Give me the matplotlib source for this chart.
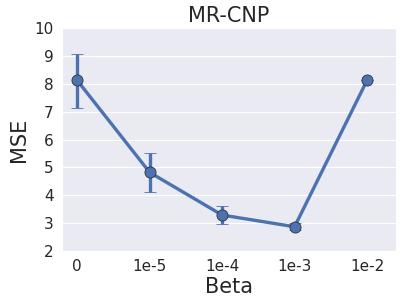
import matplotlib
matplotlib.use("Agg")
import matplotlib.pyplot as plt
import seaborn as sns
import numpy as np

betas = ["0", "1e-5", "1e-4", "1e-3", "1e-2"]
mse = [8.12, 4.82, 3.29, 2.87, 8.12]
err_low = [7.12, 4.11, 2.96, 2.74, 8.12]
err_high = [9.08, 5.52, 3.62, 3.02, 8.12]

sns.set_style("darkgrid")
plt.rcParams['font.family'] = ['DejaVu Sans']

fig = plt.figure(figsize=(4.03, 3.08), dpi=100)
ax = fig.add_axes([62 / 403, 1 - 251 / 308, 334 / 403, 223 / 308])

x = np.arange(len(betas))
mse = np.array(mse)
yerr = [mse - np.array(err_low), np.array(err_high) - mse]
color = "#4C72B0"
ax.errorbar(x, mse, yerr=yerr, color=color, lw=2.4, capsize=4, elinewidth=2.4,
            capthick=1.2, marker="o", markersize=8, markeredgecolor="#333333",
            markeredgewidth=0.6, zorder=3)

ax.set_xticks(x)
ax.set_xticklabels(betas)
ax.set_xlim(-0.21, 4.4)
ax.set_ylim(2, 10)
ax.set_yticks(range(2, 11))
ax.tick_params(labelsize=11, length=0, pad=6)
ax.grid(axis="x", visible=False)
ax.set_title("MR-CNP", fontsize=15, pad=4)
ax.set_xlabel("Beta", fontsize=15, labelpad=2)
ax.set_ylabel("MSE", fontsize=15, labelpad=4)

fig.savefig("out.png", dpi=100)
